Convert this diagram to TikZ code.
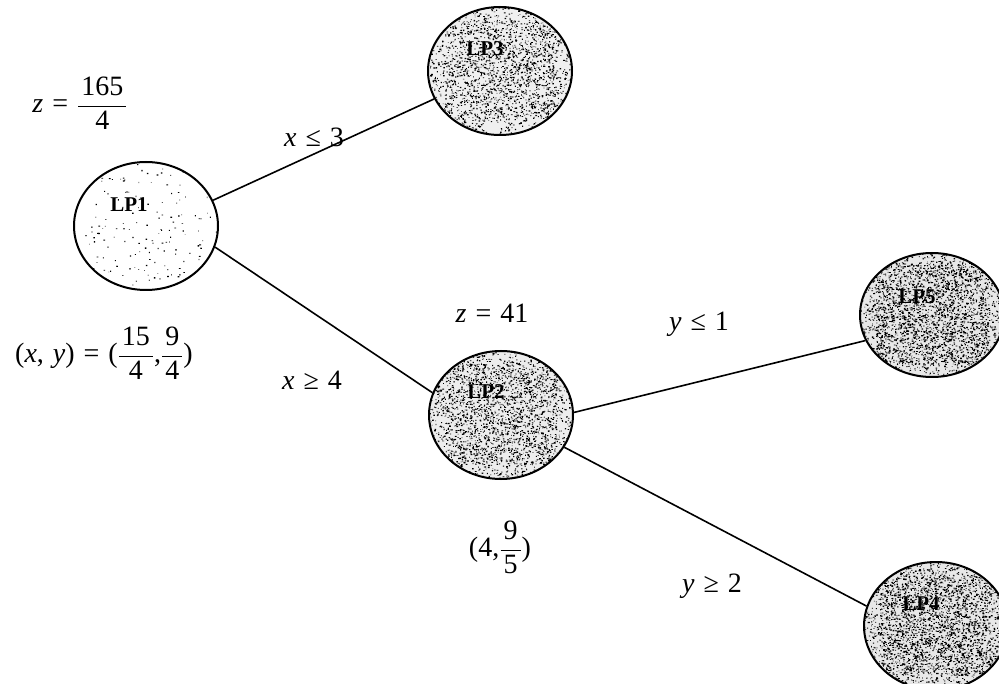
\documentclass[tikz,border=0pt]{standalone}
\usepackage{fontspec}
\setmainfont{Liberation Serif}
\usetikzlibrary{shapes.geometric}

\newcommand{\iv}[1]{\textit{#1}}
\newcommand{\gap}{\hspace{0.32em}}
\newcommand{\stackfrac}[2]{$\displaystyle\frac{\kern3pt\mbox{#1}\kern3pt}{\mbox{#2}}$}

\tikzset{
  lp/.style={ellipse, draw, line width=2pt, inner sep=0pt,
             minimum width=144pt, minimum height=128pt},
  lptext/.style={font=\fontsize{21}{24}\selectfont\bfseries, inner sep=0pt},
  cond/.style={font=\fontsize{28}{32}\selectfont, inner sep=0pt},
  branch/.style={line width=1.6pt},
  % stippled interior: #1 specks over the whole ellipse, #2 more near the middle
  grain/.style 2 args={path picture={
     \fill[black] foreach \k in {1,...,#1}{
       ([shift={(rand*74pt,rand*66pt)}]path picture bounding box.center)
         rectangle ++(0.5pt+rnd*1.3pt,0.5pt+rnd*0.9pt)};
     \fill[black] foreach \k in {1,...,#2}{
       ([shift={(rand*56pt,rand*50pt)}]path picture bounding box.center)
         rectangle ++(0.5pt+rnd*1.3pt,0.5pt+rnd*0.9pt)};
  }},
}

\begin{document}
\begin{tikzpicture}[x=1pt, y=-1pt]
\pgfmathsetseed{4711}
\useasboundingbox (0,0) rectangle (999,684);

% subproblem nodes
\node[lp, fill=white,   grain={110}{60}]    (lp1) at (146,226) {};
\node[lp, fill=gray!12, grain={1700}{900}]  (lp3) at (500,71)  {};
\node[lp, fill=gray!14, grain={1900}{1100}] (lp2) at (501,415) {};
\node[lp, minimum height=124pt, fill=gray!18, grain={2300}{1400}] (lp5) at (932,315) {};
\node[lp, fill=gray!18, grain={2300}{1400}] (lp4) at (936,626) {};

\node[lptext] (t1) at (129,205) {LP1};
\node[lptext] (t3) at (485,49)  {LP3};
\node[lptext] (t2) at (486,392) {LP2};
\node[lptext] (t5) at (917,297) {LP5};
\node[lptext] (t4) at (921,604) {LP4};

% branches
\draw[branch] (lp1.21)  -- (lp3.203);
\draw[branch] (lp1.343) -- (lp2.162);
\draw[branch] (lp2.2)   -- (lp5.201);
\draw[branch] (lp2.333) -- (lp4.164);

% values and branching conditions
\node[cond] (zroot)  at (80,103)  {\iv{z}\gap=\gap\stackfrac{165}{4}};
\node[cond] (xyroot) at (104,353) {(\iv{x},\gap\iv{y})\gap=\gap(\stackfrac{15}{4},\stackfrac{9}{4})};
\node[cond] (c13)    at (314,137) {\iv{x}\gap≤\gap3};
\node[cond] (c12)    at (312,380) {\iv{x}\gap≥\gap4};
\node[cond] (z2)     at (492,313) {\iv{z}\gap=\gap41};
\node[cond] (c25)    at (699,324) {\iv{y}\gap≤\gap1};
\node[cond] (xy2)    at (500,547) {(4,\stackfrac{9}{5})};
\node[cond] (c24)    at (712,586) {\iv{y}\gap≥\gap2};
\end{tikzpicture}
\end{document}
